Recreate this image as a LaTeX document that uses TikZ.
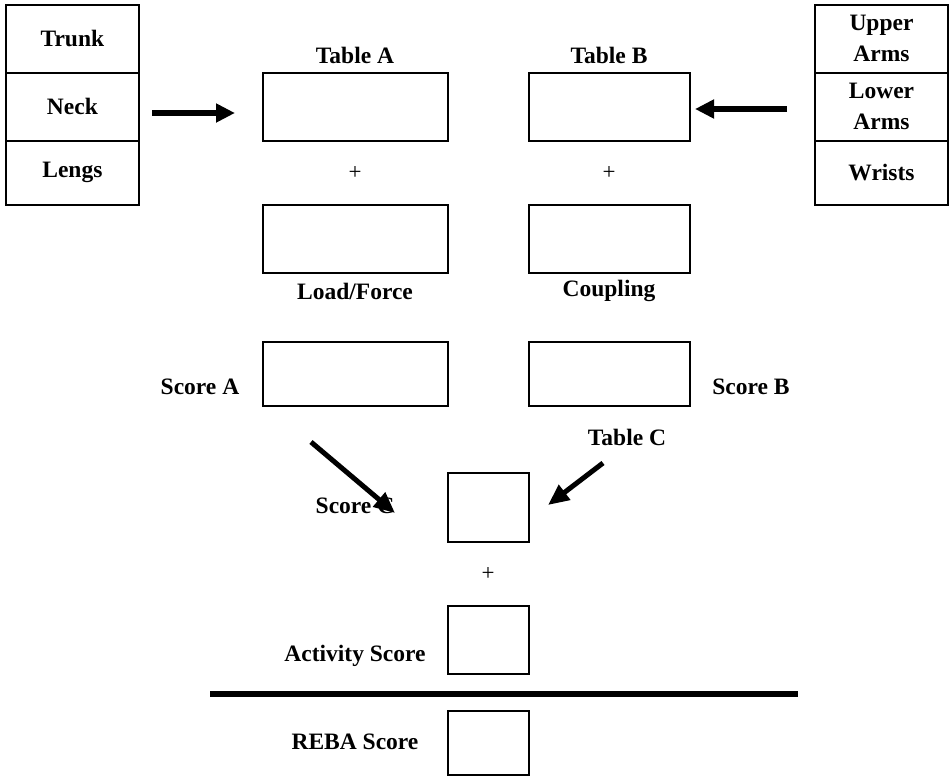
\documentclass[tikz,border=0pt]{standalone}
\usepackage{fontspec}
\setmainfont{Liberation Serif}
\usetikzlibrary{arrows.meta}
\begin{document}
\begin{tikzpicture}[x=1pt,y=-1pt,
  every node/.style={font=\fontsize{23.5}{31}\selectfont\bfseries, inner sep=0pt},
  cell/.style={draw, line width=2pt, minimum width=133.5pt, minimum height=68pt, align=center},
  wbox/.style={draw, line width=2pt, minimum width=185pt, minimum height=68pt},
  nbox/.style={draw, line width=2pt, minimum width=161pt, minimum height=68pt},
  sbox/.style={draw, line width=2pt, minimum width=81pt},
  plus/.style={font=\fontsize{23}{25}\selectfont\mdseries},
  bigarrow/.style={line width=5.5pt, -{Triangle[length=19pt,width=18pt]}},
  diagarrow/.style={line width=5pt, -{Triangle[length=21pt,width=18pt]}}
]
\useasboundingbox (0,0) rectangle (950,777);
% left column
\node[cell] (trunk) at (72.4,38.7) {Trunk};
\node[cell] (neck) at (72.4,106.7) {Neck};
\node[cell, minimum height=64pt] (legs) at (72.4,172.7) {Lengs};
% right column
\node[cell] (upper) at (881.5,38.7) {Upper\\Arms};
\node[cell] (lower) at (881.5,106.7) {Lower\\Arms};
\node[cell, minimum height=64pt] (wrists) at (881.5,172.7) {Wrists};
% table boxes
\node[wbox] (tabA) at (355.5,107) {};
\node[wbox] (load) at (355.5,239) {};
\node[nbox] (tabB) at (609.5,107) {};
\node[nbox] (coup) at (609.5,239) {};
\node[wbox, minimum height=64pt] (scA) at (355.5,374) {};
\node[nbox, minimum height=64pt] (scB) at (609.5,374) {};
\node[sbox, minimum height=69pt] (scC) at (488.5,507.5) {};
\node[sbox, minimum height=68pt] (act) at (488,640) {};
\node[sbox, minimum height=64pt] (reba) at (488,743) {};
% labels
\node (lTA) at (355,55) {Table A};
\node (lTB) at (609,55) {Table B};
\node[plus] (p1) at (355,173) {+};
\node[plus] (p2) at (609,173) {+};
\node (lLF) at (355,291) {Load/Force};
\node (lCp) at (609,291) {Coupling};
\node (lSA) at (200,387) {Score A};
\node (lSB) at (751,387) {Score B};
\node (lTC) at (627,437) {Table C};
\node (lSC) at (355,506) {Score C};
\node[plus] (p3) at (488,574) {+};
\node (lAS) at (355,656) {Activity Score};
\node (lRS) at (355,742) {REBA Score};
% arrows
\coordinate (a1s) at (152,113);
\coordinate (a1e) at (235,113);
\coordinate (a2s) at (787,109);
\coordinate (a2e) at (695,109);
\coordinate (a3s) at (311,442);
\coordinate (a3e) at (395,513);
\coordinate (a4s) at (603,463);
\coordinate (a4e) at (548,505);
\draw[bigarrow] (a1s) -- (a1e);
\draw[bigarrow] (a2s) -- (a2e);
\draw[diagarrow] (a3s) -- (a3e);
\draw[diagarrow] (a4s) -- (a4e);
% thick rule
\coordinate (r1) at (210,693.5);
\coordinate (r2) at (798,693.5);
\draw[line width=6pt] (r1) -- (r2);
\end{tikzpicture}
\end{document}
